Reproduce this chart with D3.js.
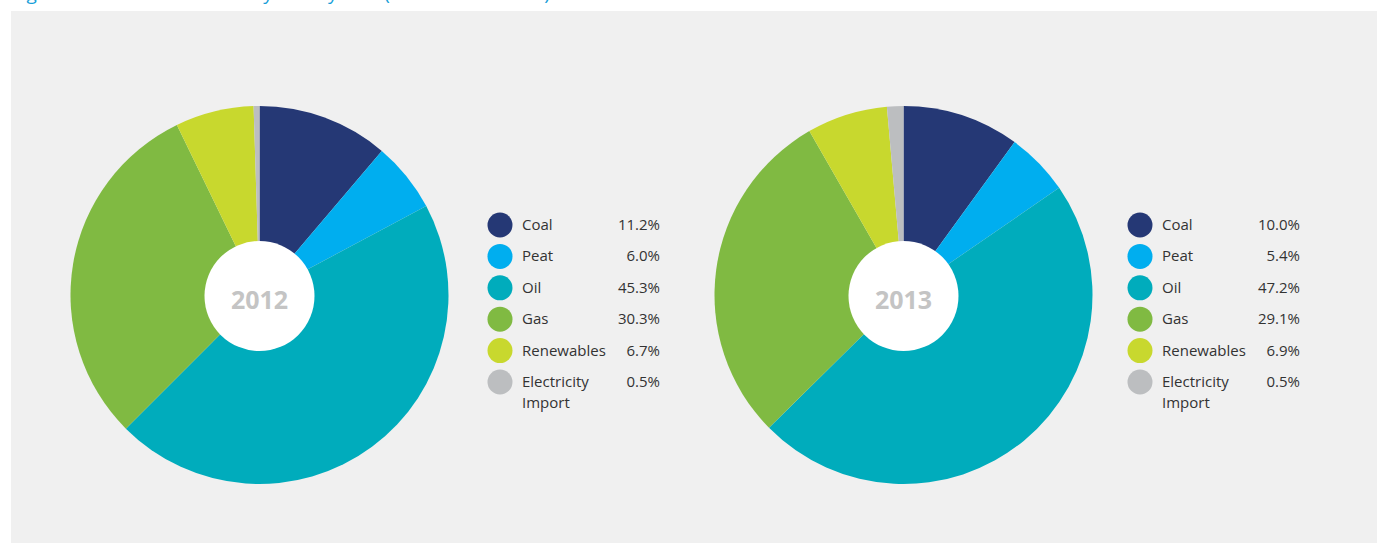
<!DOCTYPE html>
<html>
<head>
<meta charset="utf-8">
<script src="https://cdn.jsdelivr.net/npm/d3@7"></script>
<style>
  html, body { margin: 0; padding: 0; background: #ffffff; }
  svg { display: block; }
</style>
</head>
<body>
<svg id="chart" width="1378" height="543"></svg>
<script>
// ---- data ----
const categories = ["Coal", "Peat", "Oil", "Gas", "Renewables", "Electricity Import"];
const years = ["2012", "2013"];
// slice shares as drawn in the pies
const sliceValues2012 = [11.2, 6.0, 45.3, 30.3, 6.7, 0.5];
const sliceValues2013 = [10.0, 5.4, 47.2, 29.1, 6.9, 1.4];
// legend value labels as printed
const labels2012 = ["11.2%", "6.0%", "45.3%", "30.3%", "6.7%", "0.5%"];
const labels2013 = ["10.0%", "5.4%", "47.2%", "29.1%", "6.9%", "0.5%"];
const colors = ["#253875", "#00aeef", "#00acbc", "#80ba42", "#c8d82e", "#bcbec0"];
const titleText = "Figure 5: Total Final Electricity Use by Fuel (2012 versus 2013)";

const svg = d3.select("#chart");
const font = "'Open Sans', 'Noto Sans', sans-serif";

// title (cut off at top, as in the source)
svg.append("text")
  .attr("x", 12).attr("y", 0)
  .attr("fill", "#1a9fd9")
  .style("font-family", font).style("font-size", "19px")
  .text(titleText);

// panel
svg.append("rect")
  .attr("x", 11).attr("y", 11).attr("width", 1366).attr("height", 532)
  .attr("fill", "#f0f0f0");

const color = d3.scaleOrdinal().domain(categories).range(colors);
const pie = d3.pie().sort(null).value(d => d.v);
const arc = d3.arc().innerRadius(0).outerRadius(189);

const panels = [
  { year: years[0], values: sliceValues2012, labels: labels2012, cx: 259.5, cy: 295, lx: 500, vx: 660 },
  { year: years[1], values: sliceValues2013, labels: labels2013, cx: 903.5, cy: 295, lx: 1140, vx: 1300 }
];

panels.forEach(p => {
  const data = categories.map((c, i) => ({ c, v: p.values[i] }));
  const g = svg.append("g").attr("transform", `translate(${p.cx},${p.cy})`);
  g.selectAll("path").data(pie(data)).enter().append("path")
    .attr("d", arc)
    .attr("fill", d => color(d.data.c));
  g.append("circle").attr("r", 55).attr("fill", "#ffffff").attr("cy", 1);
  g.append("text")
    .attr("text-anchor", "middle").attr("y", 14)
    .attr("fill", "#c4c4c4")
    .style("font-family", font).style("font-size", "25px").style("font-weight", "bold")
    .text(p.year);

  // legend
  const rowY = d3.scalePoint().domain(categories).range([225, 382]);
  const lg = svg.append("g");
  categories.forEach((c, i) => {
    const y = rowY(c);
    lg.append("circle").attr("cx", p.lx).attr("cy", y).attr("r", 12.5).attr("fill", color(c));
    const words = c === "Electricity Import" ? ["Electricity", "Import"] : [c];
    words.forEach((w, k) => {
      lg.append("text")
        .attr("x", p.lx + 22).attr("y", y + 5 + k * 21)
        .attr("fill", "#333333")
        .style("font-family", font).style("font-size", "15px")
        .text(w);
    });
    lg.append("text")
      .attr("x", p.vx).attr("y", y + 5)
      .attr("text-anchor", "end")
      .attr("fill", "#333333")
      .style("font-family", font).style("font-size", "15px")
      .text(p.labels[i]);
  });
});
</script>
</body>
</html>
